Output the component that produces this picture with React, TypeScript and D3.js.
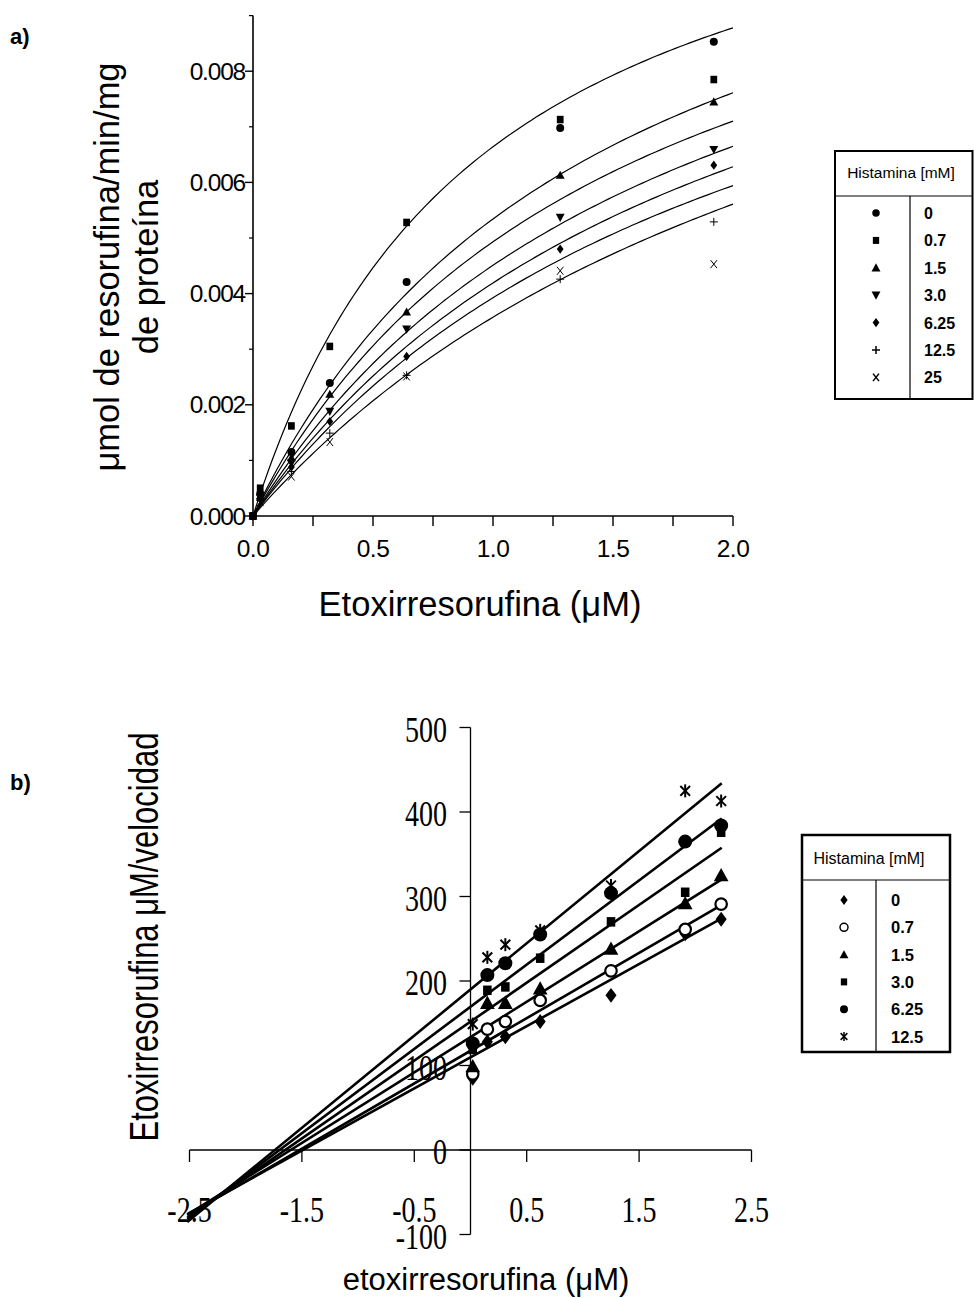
import React from 'react';
import * as d3 from 'd3';

// ---------- Chart a data ----------
const sA = [0, 0.03, 0.16, 0.32, 0.64, 1.28, 1.92];
const histA = ['0', '0.7', '1.5', '3.0', '6.25', '12.5', '25'];
const markA = ['circle', 'square', 'triUp', 'triDown', 'diamond', 'plus', 'cross'];
const vA0 = [0, 0.0004, 0.00115, 0.00239, 0.00421, 0.00698, 0.00853];
const vA07 = [0, 0.0005, 0.00162, 0.00305, 0.00528, 0.00713, 0.00785];
const vA15 = [0, 0.00036, 0.00105, 0.00219, 0.00367, 0.00613, 0.00745];
const vA30 = [0, 0.00033, 0.00095, 0.00188, 0.00336, 0.00537, 0.00659];
const vA625 = [0, 0.0003, 0.00088, 0.0017, 0.00287, 0.0048, 0.00631];
const vA125 = [0, 0.00028, 0.0008, 0.00149, 0.00253, 0.00426, 0.00529];
const vA25 = [0, 0.00025, 0.00071, 0.00133, 0.00251, 0.00441, 0.00453];
const seriesA = [vA0, vA07, vA15, vA30, vA625, vA125, vA25];
// fitted Michaelis-Menten curves (Vmax, Km)
const vmaxA = [0.01295, 0.01323, 0.01268, 0.01266, 0.01252, 0.01222, 0.01301];
const kmA = [0.95, 1.476, 1.571, 1.808, 1.987, 2.113, 2.639];
const yTicksA = [0, 0.002, 0.004, 0.006, 0.008];
const yMinorA = [0.001, 0.003, 0.005, 0.007, 0.009];
const xTicksA = [0, 0.25, 0.5, 0.75, 1, 1.25, 1.5, 1.75, 2];
const xLabelsA = [0, 0.5, 1, 1.5, 2];

// ---------- Chart b data ----------
const sB = [0.02, 0.15, 0.31, 0.62, 1.25, 1.91, 2.23];
const histB = ['0', '0.7', '1.5', '3.0', '6.25', '12.5'];
const markB = ['diamond', 'openCircle', 'triUp', 'square', 'circle', 'asterisk'];
const rB0 = [85, 128, 134, 152, 183, 256, 273];
const rB07 = [90, 143, 152, 177, 212, 261, 291];
const rB15 = [99, 174, 174, 191, 238, 292, 325];
const rB30 = [119, 189, 193, 227, 270, 305, 376];
const rB625 = [126, 207, 221, 255, 304, 365, 384];
const rB125 = [149, 228, 243, 260, 313, 425, 413];
const seriesB = [rB0, rB07, rB15, rB30, rB625, rB125];
const slopeB = [73.6, 77.2, 83.5, 92.1, 99.7, 109.2];
const interceptB = [109.7, 117.4, 133.6, 151.9, 169.5, 190.0];
const lineStartB = -2.52;
const lineEndB = 2.235;
const xTicksB = [-2.5, -1.5, -0.5, 0.5, 1.5, 2.5];
const yTicksB = [-100, 0, 100, 200, 300, 400, 500];

const SANS = 'Liberation Sans, Arial, Helvetica, sans-serif';
const SERIF = 'Liberation Serif, Times New Roman, serif';

function Marker({ kind, cx, cy, s, sw = 1 }: { kind: string; cx: number; cy: number; s: number; sw?: number }) {
  const h = s / 2;
  switch (kind) {
    case 'circle':
      return <circle cx={cx} cy={cy} r={h} fill="#000" />;
    case 'openCircle':
      return <circle cx={cx} cy={cy} r={h} fill="#fff" stroke="#000" strokeWidth={sw} />;
    case 'square':
      return <rect x={cx - h * 0.9} y={cy - h} width={s * 0.9} height={s} fill="#000" />;
    case 'triUp':
      return <path d={`M${cx},${cy - h * 1.05}L${cx + h * 1.05},${cy + h * 0.85}L${cx - h * 1.05},${cy + h * 0.85}Z`} fill="#000" />;
    case 'triDown':
      return <path d={`M${cx},${cy + h * 1.05}L${cx + h * 1.05},${cy - h * 0.85}L${cx - h * 1.05},${cy - h * 0.85}Z`} fill="#000" />;
    case 'diamond':
      return <path d={`M${cx},${cy - h * 1.15}L${cx + h * 0.85},${cy}L${cx},${cy + h * 1.15}L${cx - h * 0.85},${cy}Z`} fill="#000" />;
    case 'plus':
      return (
        <g stroke="#000" strokeWidth={sw}>
          <line x1={cx - h} y1={cy} x2={cx + h} y2={cy} />
          <line x1={cx} y1={cy - h} x2={cx} y2={cy + h} />
        </g>
      );
    case 'cross':
      return (
        <g stroke="#000" strokeWidth={sw}>
          <line x1={cx - h * 0.8} y1={cy - h} x2={cx + h * 0.8} y2={cy + h} />
          <line x1={cx - h * 0.8} y1={cy + h} x2={cx + h * 0.8} y2={cy - h} />
        </g>
      );
    case 'asterisk':
      return (
        <g stroke="#000" strokeWidth={sw}>
          <line x1={cx} y1={cy - h} x2={cx} y2={cy + h} />
          <line x1={cx - h * 0.75} y1={cy - h * 0.75} x2={cx + h * 0.75} y2={cy + h * 0.75} />
          <line x1={cx - h * 0.75} y1={cy + h * 0.75} x2={cx + h * 0.75} y2={cy - h * 0.75} />
        </g>
      );
    default:
      return null;
  }
}

const markSizeA: Record<string, number> = { circle: 8, square: 7.5, triUp: 8.5, triDown: 8.5, diamond: 8, plus: 8, cross: 8 };
const markSizeB: Record<string, number> = { circle: 14, openCircle: 11.5, square: 9.5, triUp: 14, diamond: 13, asterisk: 13 };
const legSizeA: Record<string, number> = { circle: 7.5, square: 7, triUp: 8.5, triDown: 8.5, diamond: 8, plus: 8, cross: 7.5 };
const legSizeB: Record<string, number> = { circle: 8, openCircle: 8, square: 7, triUp: 8.5, diamond: 8.5, asterisk: 9 };

function ChartA() {
  const x = d3.scaleLinear().domain([0, 2]).range([253, 733]);
  const y = d3.scaleLinear().domain([0, 0.009]).range([516, 15.6]);
  const curveX = d3.range(0, 2.0001, 0.02);
  return (
    <g>
      <text x={10} y={44} fontFamily={SANS} fontWeight="bold" fontSize={22}>a)</text>
      {/* axes */}
      <line x1={x(0)} y1={y(0.009)} x2={x(0)} y2={y(0)} stroke="#000" strokeWidth={1.6} />
      <line x1={x(0)} y1={y(0)} x2={x(2)} y2={y(0)} stroke="#000" strokeWidth={1.6} />
      {yTicksA.map((t) => (
        <g key={'ya' + t}>
          <line x1={x(0) - 8} y1={y(t)} x2={x(0)} y2={y(t)} stroke="#000" strokeWidth={1.4} />
          <text x={x(0) - 8} y={y(t) + 8.5} textAnchor="end" fontFamily={SANS} fontSize={24.5} letterSpacing={-1.2}>
            {t.toFixed(3)}
          </text>
        </g>
      ))}
      {yMinorA.map((t) => (
        <line key={'ym' + t} x1={x(0) - 4} y1={y(t)} x2={x(0)} y2={y(t)} stroke="#000" strokeWidth={1.2} />
      ))}
      {xTicksA.map((t) => (
        <line key={'xa' + t} x1={x(t)} y1={y(0)} x2={x(t)} y2={y(0) + 10} stroke="#000" strokeWidth={1.4} />
      ))}
      {xLabelsA.map((t) => (
        <text key={'xl' + t} x={x(t)} y={y(0) + 41} textAnchor="middle" fontFamily={SANS} fontSize={24.5} letterSpacing={-0.5}>
          {t.toFixed(1)}
        </text>
      ))}
      <text x={480} y={616} textAnchor="middle" fontFamily={SANS} fontSize={34.5}>Etoxirresorufina (μM)</text>
      <text transform="translate(119,267) rotate(-90)" textAnchor="middle" fontFamily={SANS} fontSize={34.5}>
        μmol de resorufina/min/mg
      </text>
      <text transform="translate(158,267) rotate(-90)" textAnchor="middle" fontFamily={SANS} fontSize={34.5}>
        de proteína
      </text>
      {/* fitted curves */}
      {vmaxA.map((vm, i) => {
        const path = d3
          .line<number>()
          .x((s) => x(s))
          .y((s) => y((vm * s) / (kmA[i] + s)))(curveX);
        return <path key={'c' + i} d={path || ''} fill="none" stroke="#000" strokeWidth={1.2} />;
      })}
      {/* points */}
      {seriesA.map((vals, si) =>
        vals.map((v, j) => (
          <Marker key={`pa${si}-${j}`} kind={markA[si]} cx={x(sA[j])} cy={y(v)} s={markSizeA[markA[si]]} sw={1} />
        ))
      )}
      {/* legend */}
      <g>
        <rect x={835} y={151} width={137.5} height={248} fill="#fff" stroke="#000" strokeWidth={2} />
        <line x1={835} y1={196} x2={972.5} y2={196} stroke="#000" strokeWidth={1.2} />
        <line x1={910} y1={196} x2={910} y2={399} stroke="#000" strokeWidth={1.2} />
        <text x={901} y={178} textAnchor="middle" fontFamily={SANS} fontSize={15.5}>Histamina [mM]</text>
        {histA.map((h, i) => {
          const cy = 213 + i * 27.4;
          return (
            <g key={'la' + i}>
              <Marker kind={markA[i]} cx={876} cy={cy} s={legSizeA[markA[i]]} sw={1.5} />
              <text x={924} y={cy + 6} fontFamily={SANS} fontWeight="bold" fontSize={16}>{h}</text>
            </g>
          );
        })}
      </g>
    </g>
  );
}

function SerifLabel({ x, y, anchor, children }: { x: number; y: number; anchor: string; children: React.ReactNode }) {
  return (
    <g transform={`translate(${x},${y}) scale(0.8,1)`}>
      <text x={0} y={0} textAnchor={anchor} fontFamily={SERIF} fontSize={35}>
        {children}
      </text>
    </g>
  );
}

function ChartB() {
  const x = d3.scaleLinear().domain([-2.5, 2.5]).range([189.5, 751.5]);
  const y = d3.scaleLinear().domain([-100, 500]).range([1234.5, 727.5]);
  return (
    <g>
      <text x={10} y={790} fontFamily={SANS} fontWeight="bold" fontSize={22}>b)</text>
      {/* regression lines */}
      {slopeB.map((m, i) => (
        <line
          key={'lb' + i}
          x1={x(lineStartB)}
          y1={y(interceptB[i] + m * lineStartB)}
          x2={x(lineEndB)}
          y2={y(interceptB[i] + m * lineEndB)}
          stroke="#000"
          strokeWidth={2.6}
        />
      ))}
      {/* axes */}
      <line x1={x(-2.5)} y1={y(0)} x2={x(2.5)} y2={y(0)} stroke="#000" strokeWidth={1.3} />
      <line x1={x(0)} y1={y(-100)} x2={x(0)} y2={y(500)} stroke="#000" strokeWidth={1.3} />
      {xTicksB.map((t) => (
        <g key={'xb' + t}>
          <line x1={x(t)} y1={y(0)} x2={x(t)} y2={y(0) + 12} stroke="#000" strokeWidth={1.3} />
          <SerifLabel x={x(t)} y={1222} anchor="middle">{String(t)}</SerifLabel>
        </g>
      ))}
      {yTicksB.map((t) => (
        <g key={'yb' + t}>
          <line x1={x(0) - 11} y1={y(t)} x2={x(0)} y2={y(t)} stroke="#000" strokeWidth={1.3} />
          <SerifLabel x={447} y={y(t) + 14} anchor="end">{String(t)}</SerifLabel>
        </g>
      ))}
      {/* points */}
      {seriesB.map((vals, si) =>
        vals.map((v, j) => (
          <Marker key={`pb${si}-${j}`} kind={markB[si]} cx={x(sB[j])} cy={y(v)} s={markSizeB[markB[si]]} sw={si === 5 ? 2 : 2.2} />
        ))
      )}
      <text x={486} y={1290} textAnchor="middle" fontFamily={SANS} fontSize={31}>etoxirresorufina (μM)</text>
      <text transform="translate(158,937) rotate(-90) scale(1,1.3)" textAnchor="middle" fontFamily={SANS} fontSize={31}>
        Etoxirresorufina μM/velocidad
      </text>
      {/* legend */}
      <g>
        <rect x={802} y={835} width={148} height={217} fill="#fff" stroke="#000" strokeWidth={2.5} />
        <line x1={802} y1={880} x2={950} y2={880} stroke="#000" strokeWidth={1.2} />
        <line x1={876} y1={880} x2={876} y2={1052} stroke="#000" strokeWidth={1.2} />
        <text x={869} y={864} textAnchor="middle" fontFamily={SANS} fontSize={16}>Histamina [mM]</text>
        {histB.map((h, i) => {
          const cy = 900 + i * 27.3;
          return (
            <g key={'lgb' + i}>
              <Marker kind={markB[i]} cx={844} cy={cy} s={legSizeB[markB[i]]} sw={1.5} />
              <text x={891} y={cy + 6} fontFamily={SANS} fontWeight="bold" fontSize={16.5}>{h}</text>
            </g>
          );
        })}
      </g>
    </g>
  );
}

export default function App() {
  return (
    <svg
      width={974}
      height={1298}
      viewBox="0 0 974 1298"
      style={{ position: 'absolute', left: 0, top: 0, background: '#fff', display: 'block' }}
    >
      <rect x={0} y={0} width={974} height={1298} fill="#fff" />
      <ChartA />
      <ChartB />
    </svg>
  );
}
